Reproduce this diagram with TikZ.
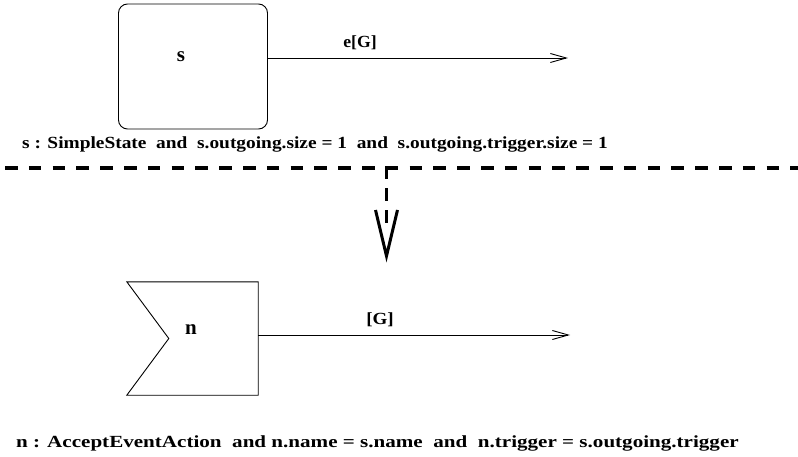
\documentclass[tikz,border=0pt]{standalone}
\usepackage{fontspec}
\usepackage{graphicx}
\setmainfont{Liberation Serif}
\usetikzlibrary{arrows.meta,calc}
\newcommand{\widetext}[2]{\scalebox{#1}[1]{#2}}
\begin{document}
\begin{tikzpicture}[x=1pt,y=-1pt,
  statebox/.style={draw,line width=0.9pt,rounded corners=9pt,minimum width=149pt,
    minimum height=125pt,inner sep=0pt},
  actionbox/.style={minimum width=131pt,minimum height=113pt,inner sep=0pt},
  outline/.style={draw,line width=0.9pt,line join=miter},
  bigname/.style={font=\fontsize{21}{24}\selectfont\bfseries,inner sep=0pt},
  edgelabel/.style={font=\fontsize{17}{20}\selectfont\bfseries,inner sep=0pt},
  constraint/.style={font=\fontsize{17}{20}\selectfont\bfseries,inner sep=0pt,anchor=west},
  flow/.style={line width=0.9pt,-{Straight Barb[length=16pt,width=9pt,line width=0.9pt]}},
  separator/.style={line width=3.3pt,dash pattern=on 12.5pt off 11.3pt},
  rulelink/.style={line width=3.3pt,dash pattern=on 13pt off 9pt},
  ruletip/.style={line width=3pt,line join=miter,miter limit=20}]
\useasboundingbox (0,0) rectangle (798,457);

% upper pattern: simple state with one outgoing transition
\node[statebox] (s) at (193,66.5) {};
\node[bigname] (sname) at (181,57) {s};
\coordinate (sout) at ($(s.east)+(0,-8.5)$);
\coordinate (send) at (568,58);
\draw[flow] (sout) -- (send);
\node[edgelabel] (trig) at (360,43) {\widetext{1.04}{e[G]}};
\node[constraint] (scond) at (22,144)
  {\widetext{1.14}{s : SimpleState\ \ and\ \ s.outgoing.size = 1\ \ and\ \ s.outgoing.trigger.size = 1}};

% rule separator and rewrite arrow
\coordinate (sepl) at (5,168);
\coordinate (sepr) at (798,168);
\draw[separator] (sepl) -- (sepr);
\coordinate (rtop) at (386.5,166.5);
\coordinate (rend) at (386.5,229);
\coordinate (rtip) at (386.5,256);
\draw[rulelink] (rtop) -- (rend);
\draw[ruletip] ($(rtip)+(-11,-46)$) -- (rtip) -- ($(rtip)+(11,-46)$);

% lower pattern: accept event action with guarded flow
\node[actionbox] (n) at (192.5,338.5) {};
\draw[outline] (n.north west) -- (n.north east) -- (n.south east) -- (n.south west)
  -- ($(n.west)+(42,0)$) -- cycle;
\node[bigname] (nname) at (191,330) {n};
\coordinate (nout) at ($(n.east)+(0,-3.5)$);
\coordinate (nend) at (570,335);
\draw[flow] (nout) -- (nend);
\node[edgelabel] (guard) at (380,320) {\widetext{1.12}{[G]}};
\node[constraint] (ncond) at (16,443)
  {\widetext{1.24}{n : AcceptEventAction\ \ and n.name = s.name\ \ and\ \ n.trigger = s.outgoing.trigger}};
\end{tikzpicture}
\end{document}
